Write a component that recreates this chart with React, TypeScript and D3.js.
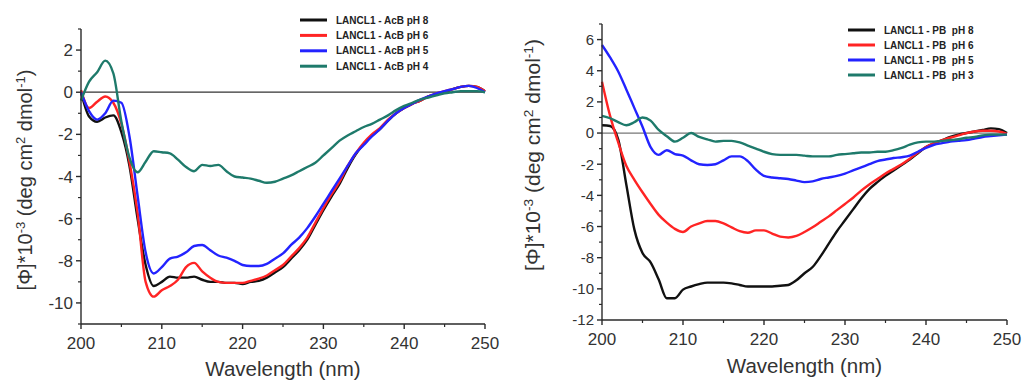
import React from "react";
import * as d3 from "d3";

// ---------- DATA ----------
const wavelengths = [
  200, 201, 202, 203, 204, 205, 206, 207, 208, 209, 210, 211, 212, 213, 214, 215, 216,
  217, 218, 219, 220, 221, 222, 223, 224, 225, 226, 227, 228, 229, 230, 231, 232, 233,
  234, 235, 236, 237, 238, 239, 240, 241, 242, 243, 244, 245, 246, 247, 248, 249, 250,
];

// Left panel: LANCL1 in AcB buffer
const acbPH8 = [
  0, -1.15, -1.4, -1.2, -1.1, -1.9, -3.5, -6.0, -8.2, -9.2, -9.0, -8.75, -8.8, -8.8, -8.75,
  -8.9, -9.0, -9.0, -9.05, -9.05, -9.1, -9.0, -8.95, -8.8, -8.55, -8.3, -7.9, -7.5, -7.0,
  -6.3, -5.6, -4.95, -4.35, -3.6, -2.95, -2.45, -2.05, -1.75, -1.35, -1.0, -0.75, -0.55,
  -0.4, -0.2, -0.1, 0.0, 0.15, 0.25, 0.3, 0.25, 0.05,
];
const acbPH6 = [
  0.1, -0.75, -0.45, -0.2, -0.5, -1.5, -3.3, -5.7, -9.0, -9.7, -9.4, -9.2, -8.9, -8.3, -8.1,
  -8.5, -8.8, -9.0, -9.05, -9.05, -9.05, -8.95, -8.85, -8.7, -8.45, -8.2, -7.8, -7.4, -6.9,
  -6.2, -5.5, -4.85, -4.25, -3.5, -2.9, -2.4, -2.0, -1.7, -1.3, -1.0, -0.75, -0.55, -0.4,
  -0.2, -0.05, 0.05, 0.15, 0.25, 0.3, 0.25, 0.05,
];
const acbPH5 = [
  0, -0.9, -1.3, -1.0, -0.4, -0.5, -2.1, -4.9, -7.6, -8.6, -8.3, -7.9, -7.8, -7.6, -7.3,
  -7.25, -7.5, -7.75, -7.85, -8.0, -8.2, -8.25, -8.25, -8.15, -7.9, -7.65, -7.25, -6.9,
  -6.45, -5.9, -5.3, -4.7, -4.1, -3.5, -2.9, -2.5, -2.1, -1.75, -1.35, -1.0, -0.75, -0.55,
  -0.35, -0.2, -0.05, 0.05, 0.15, 0.25, 0.3, 0.2, 0.0,
];
const acbPH4 = [
  -0.4, 0.5, 0.95, 1.5, 0.9, -1.4, -3.1, -3.8, -3.3, -2.8, -2.85, -2.9, -3.2, -3.55, -3.75,
  -3.45, -3.5, -3.45, -3.75, -4.0, -4.05, -4.1, -4.2, -4.3, -4.25, -4.1, -3.95, -3.75,
  -3.55, -3.35, -3.0, -2.65, -2.3, -2.05, -1.85, -1.65, -1.5, -1.3, -1.1, -0.85, -0.65,
  -0.5, -0.35, -0.25, -0.15, -0.05, 0.0, 0.05, 0.05, 0.05, 0.0,
];

// Right panel: LANCL1 in PB buffer
const pbPH8 = [
  0.5, 0.45, -0.4, -3.3, -6.2, -7.7, -8.3, -9.4, -10.6, -10.6, -10.05, -9.85, -9.7, -9.6,
  -9.6, -9.6, -9.65, -9.75, -9.85, -9.85, -9.85, -9.85, -9.8, -9.75, -9.45, -9.0, -8.6,
  -7.9, -7.1, -6.3, -5.6, -4.9, -4.2, -3.6, -3.15, -2.75, -2.4, -2.05, -1.7, -1.3, -0.9,
  -0.65, -0.45, -0.25, -0.1, 0.0, 0.1, 0.2, 0.3, 0.25, 0.0,
];
const pbPH6 = [
  3.3, 1.1, -0.6, -2.1, -3.0, -3.8, -4.55, -5.25, -5.75, -6.15, -6.35, -6.0, -5.8, -5.65,
  -5.65, -5.8, -6.05, -6.3, -6.4, -6.25, -6.25, -6.45, -6.65, -6.7, -6.6, -6.35, -6.05,
  -5.7, -5.35, -4.95, -4.55, -4.15, -3.7, -3.3, -2.95, -2.6, -2.3, -2.0, -1.65, -1.25, -0.9,
  -0.65, -0.45, -0.3, -0.15, 0.0, 0.1, 0.15, 0.15, 0.1, -0.05,
];
const pbPH5 = [
  5.65, 4.85, 3.95, 2.8, 1.6, 0.4, -0.9, -1.4, -1.1, -1.35, -1.45, -1.75, -2.0, -2.05, -2.0,
  -1.75, -1.5, -1.5, -1.8, -2.35, -2.75, -2.85, -2.9, -2.95, -3.05, -3.15, -3.1, -2.95,
  -2.85, -2.75, -2.6, -2.4, -2.2, -2.0, -1.8, -1.7, -1.6, -1.55, -1.45, -1.2, -0.95, -0.75,
  -0.65, -0.55, -0.5, -0.45, -0.35, -0.25, -0.2, -0.15, -0.1,
];
const pbPH3 = [
  1.1, 0.95, 0.7, 0.5, 0.7, 1.0, 0.8, 0.2, -0.2, -0.55, -0.3, 0.0, -0.25, -0.4, -0.55,
  -0.5, -0.5, -0.6, -0.8, -1.0, -1.2, -1.35, -1.4, -1.4, -1.4, -1.45, -1.5, -1.5, -1.5,
  -1.4, -1.35, -1.3, -1.25, -1.25, -1.2, -1.2, -1.1, -0.95, -0.75, -0.6, -0.55, -0.55, -0.5,
  -0.45, -0.4, -0.3, -0.25, -0.15, -0.1, -0.1, -0.1,
];

const xTickLabels = [200, 210, 220, 230, 240, 250];
const leftYTickLabels = [-10, -8, -6, -4, -2, 0, 2];
const rightYTickLabels = [-12, -10, -8, -6, -4, -2, 0, 2, 4, 6];

const leftSeriesNames = [
  "LANCL1 - AcB pH 8",
  "LANCL1 - AcB pH 6",
  "LANCL1 - AcB pH 5",
  "LANCL1 - AcB pH 4",
];
const rightSeriesNames = [
  "LANCL1 - PB  pH 8",
  "LANCL1 - PB  pH 6",
  "LANCL1 - PB  pH 5",
  "LANCL1 - PB  pH 3",
];
const seriesColors = ["#111111", "#ff2424", "#2323ff", "#1e7a6b"];

// ---------- RENDERING ----------
const FONT = "'Liberation Sans', Arial, sans-serif";
const AXIS = "#2a2a2a";
const LABEL = "#333333";

type PanelProps = {
  series: number[][];
  names: string[];
  yDomain: [number, number];
  yTicks: number[];
  x0: number;
  x1: number;
  yTop: number;
  yBottom: number;
  yTickFont: number;
  xTickFont: number;
  zeroColor: string;
  legendX: number;
  legendY: number;
  legendStep: number;
  yLabelX: number;
  yLabelY: number;
  yLabelFont: number;
  titleY: number;
};

function Panel(p: PanelProps) {
  const x = d3.scaleLinear().domain([200, 250]).range([p.x0, p.x1]);
  const y = d3.scaleLinear().domain(p.yDomain).range([p.yBottom, p.yTop]);
  const line = d3
    .line<number>()
    .x((_, i) => x(wavelengths[i]))
    .y((v) => y(v))
    .curve(d3.curveMonotoneX);

  const minorX = d3.range(205, 250, 10);
  const minorY = d3
    .range(Math.ceil(p.yDomain[0]), p.yDomain[1] + 1)
    .filter((v) => !p.yTicks.includes(v));

  return (
    <g>
      <line
        x1={x(200)}
        x2={x(250)}
        y1={y(0)}
        y2={y(0)}
        stroke={p.zeroColor}
        strokeWidth={1.3}
      />
      {p.series.map((s, i) => (
        <path
          key={i}
          d={line(s) || ""}
          fill="none"
          stroke={seriesColors[i]}
          strokeWidth={2.4}
          strokeLinejoin="round"
        />
      ))}
      <line x1={p.x0} x2={p.x0} y1={p.yTop} y2={p.yBottom} stroke={AXIS} strokeWidth={1.4} />
      <line x1={p.x0} x2={p.x1} y1={p.yBottom} y2={p.yBottom} stroke={AXIS} strokeWidth={1.4} />
      {xTickLabels.map((t) => (
        <g key={"xt" + t}>
          <line x1={x(t)} x2={x(t)} y1={p.yBottom} y2={p.yBottom + 5} stroke={AXIS} strokeWidth={1.4} />
          <text
            x={x(t)}
            y={p.yBottom + 25}
            textAnchor="middle"
            fontFamily={FONT}
            fontSize={p.xTickFont}
            fill={LABEL}
          >
            {t}
          </text>
        </g>
      ))}
      {minorX.map((t) => (
        <line key={"xm" + t} x1={x(t)} x2={x(t)} y1={p.yBottom} y2={p.yBottom + 3} stroke={AXIS} strokeWidth={1.2} />
      ))}
      {p.yTicks.map((t) => (
        <g key={"yt" + t}>
          <line x1={p.x0 - 5} x2={p.x0} y1={y(t)} y2={y(t)} stroke={AXIS} strokeWidth={1.4} />
          <text
            x={p.x0 - 8}
            y={y(t)}
            dy="0.36em"
            textAnchor="end"
            fontFamily={FONT}
            fontSize={p.yTickFont}
            fill={LABEL}
          >
            {t}
          </text>
        </g>
      ))}
      {minorY.map((t) => (
        <line key={"ym" + t} x1={p.x0 - 3} x2={p.x0} y1={y(t)} y2={y(t)} stroke={AXIS} strokeWidth={1.2} />
      ))}
      <text
        x={(p.x0 + p.x1) / 2}
        y={p.titleY}
        textAnchor="middle"
        fontFamily={FONT}
        fontSize={20.5}
        fill={LABEL}
      >
        Wavelength (nm)
      </text>
      <text
        transform={`translate(${p.yLabelX},${p.yLabelY}) rotate(-90)`}
        textAnchor="middle"
        fontFamily={FONT}
        fontSize={p.yLabelFont}
        fill={LABEL}
      >
        <tspan>[Φ]*10</tspan>
        <tspan dy="-0.55em" fontSize="0.65em">-3</tspan>
        <tspan dy="0.36em"> (deg cm</tspan>
        <tspan dy="-0.55em" fontSize="0.65em">2</tspan>
        <tspan dy="0.36em"> dmol</tspan>
        <tspan dy="-0.55em" fontSize="0.65em">-1</tspan>
        <tspan dy="0.36em">)</tspan>
      </text>
      {p.names.map((n, i) => (
        <g key={"lg" + i}>
          <line
            x1={p.legendX}
            x2={p.legendX + 27}
            y1={p.legendY + i * p.legendStep}
            y2={p.legendY + i * p.legendStep}
            stroke={seriesColors[i]}
            strokeWidth={3}
          />
          <text
            x={p.legendX + 36}
            y={p.legendY + i * p.legendStep}
            dy="0.35em"
            fontFamily={FONT}
            fontWeight="bold"
            fontSize={10}
            fill="#222"
            style={{ whiteSpace: "pre" }}
          >
            {n}
          </text>
        </g>
      ))}
    </g>
  );
}

export default function App() {
  return (
    <svg
      width={1023}
      height={381}
      style={{ position: "absolute", left: 0, top: 0, background: "#fff" }}
    >
      <rect width={1023} height={381} fill="#fff" />
      <Panel
        series={[acbPH8, acbPH6, acbPH5, acbPH4]}
        names={leftSeriesNames}
        yDomain={[-11, 3]}
        yTicks={leftYTickLabels}
        x0={81}
        x1={485}
        yTop={29}
        yBottom={324}
        yTickFont={17}
        xTickFont={17}
        zeroColor="#333"
        legendX={300}
        legendY={20}
        legendStep={15.4}
        yLabelX={32}
        yLabelY={180}
        yLabelFont={20}
        titleY={376}
      />
      <Panel
        series={[pbPH8, pbPH6, pbPH5, pbPH3]}
        names={rightSeriesNames}
        yDomain={[-12, 7]}
        yTicks={rightYTickLabels}
        x0={602}
        x1={1007}
        yTop={24}
        yBottom={320}
        yTickFont={15}
        xTickFont={17}
        zeroColor="#777"
        legendX={848}
        legendY={30}
        legendStep={15}
        yLabelX={540}
        yLabelY={155}
        yLabelFont={21}
        titleY={373}
      />
    </svg>
  );
}
